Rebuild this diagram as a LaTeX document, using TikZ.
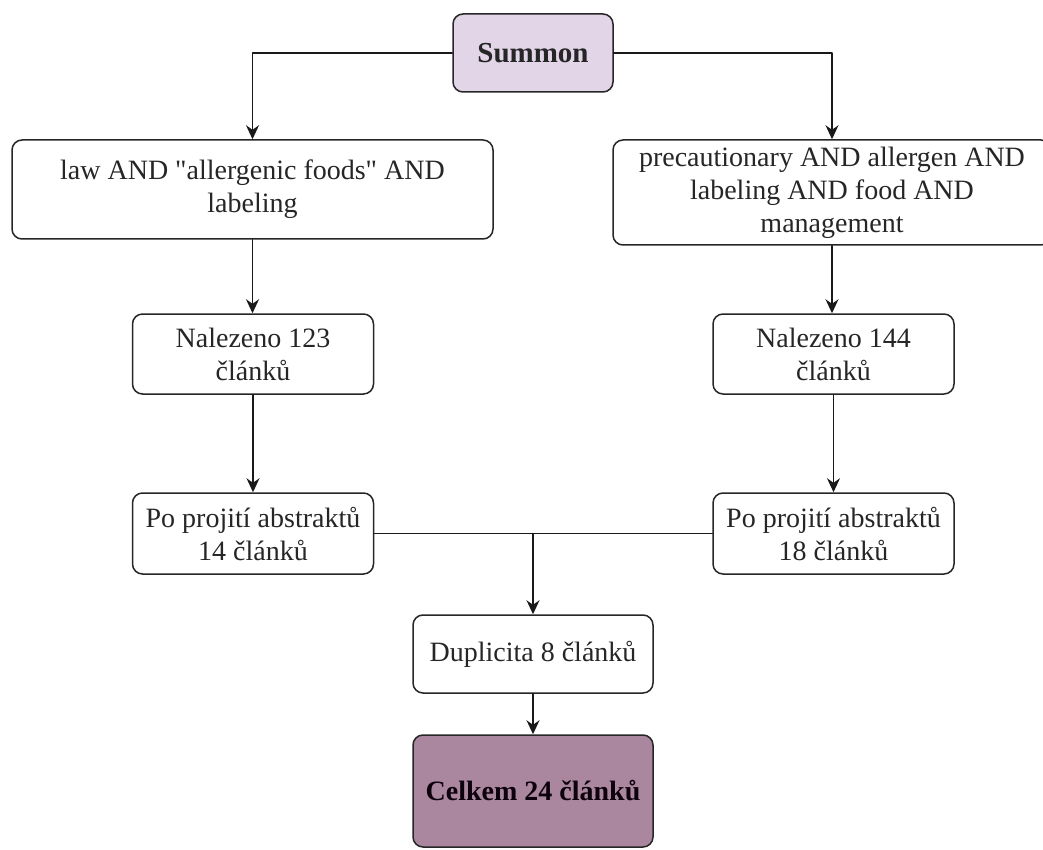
\documentclass[tikz,border=0pt]{standalone}
\usepackage{fontspec}
\setmainfont{Liberation Serif}
\usetikzlibrary{arrows.meta}
\definecolor{fialkova}{HTML}{E1D5E7}
\definecolor{slivova}{HTML}{AA879F}
\newcommand\uvoz{\XeTeXglyph\XeTeXcharglyph"22\relax}
\begin{document}
\begin{tikzpicture}[x=1pt,y=-1pt,line cap=round,line join=round,>={Stealth[length=14pt,width=13pt]},
  krok/.style={draw=black!85,line width=1.5pt,rounded corners=10pt,fill=white,align=center,
    inner sep=0pt,font=\fontsize{28}{33}\selectfont,text=black!85},
  sipka/.style={->,line width=1.5pt,black!90}]
\useasboundingbox (0,0) rectangle (1043,850);
%%Zdroj
\node[krok,fill=fialkova,minimum width=160pt,minimum height=78pt,font=\fontsize{29}{33}\selectfont\bfseries] (summon) at (533,53) {Summon};
%%Dotazy
\node[krok,minimum width=481pt,minimum height=99pt] (dotaz1) at (252.5,189.5) {law AND \uvoz allergenic foods\uvoz{} AND\\labeling};
\node[krok,minimum width=438pt,minimum height=105pt] (dotaz2) at (832,192.5) {precautionary AND allergen AND\\labeling AND food AND\\management};
%%Nalezeno
\node[krok,minimum width=241pt,minimum height=80pt] (nal1) at (253,354) {Nalezeno 123\\článků};
\node[krok,minimum width=241pt,minimum height=80pt] (nal2) at (833.5,354) {Nalezeno 144\\článků};
%%Po abstraktech
\node[krok,minimum width=241pt,minimum height=81pt] (po1) at (253,533.5) {Po projití abstraktů\\14 článků};
\node[krok,minimum width=241pt,minimum height=81pt] (po2) at (833.5,533.5) {Po projití abstraktů\\18 článků};
%%Vysledek
\node[krok,minimum width=240pt,minimum height=78pt] (dup) at (533,654) {Duplicita 8 článků};
\node[krok,fill=slivova,minimum width=240pt,minimum height=112pt,font=\fontsize{28}{33}\selectfont\bfseries,text=black!90!violet] (celkem) at (533,791) {Celkem 24 článků};
%Spojnice
\draw[sipka] (summon.west) -| (dotaz1.north);
\draw[sipka] (summon.east) -| (dotaz2.north);
\draw[sipka] (dotaz1.south) -- (dotaz1.south |- nal1.north);
\draw[sipka] (dotaz2.south) -- (dotaz2.south |- nal2.north);
\draw[sipka] (nal1) -- (po1);
\draw[sipka] (nal2) -- (po2);
\draw[line width=1.5pt,black!90] (po1.east) -- (po2.west);
\draw[sipka] (po1.east -| dup.north) -- (dup.north);
\draw[sipka] (dup) -- (celkem);
\end{tikzpicture}
\end{document}
